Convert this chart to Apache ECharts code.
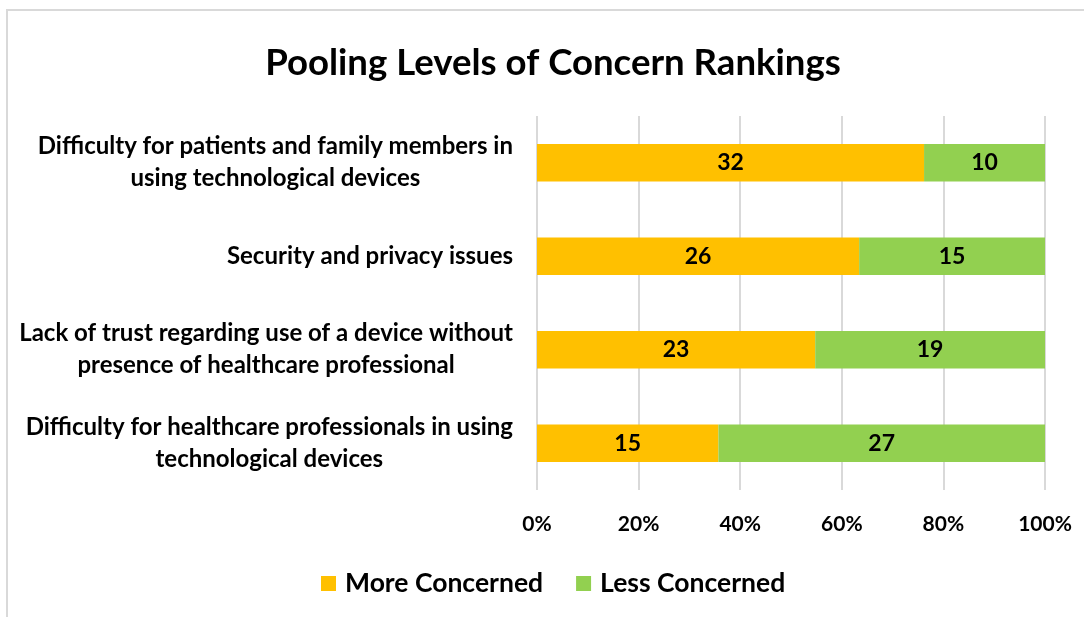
<!DOCTYPE html>
<html>
<head>
<meta charset="utf-8">
<script src="https://cdn.jsdelivr.net/npm/echarts@6/dist/echarts.min.js"></script>
<style>
  html, body { margin: 0; padding: 0; background: #ffffff; }
  #chart { width: 1084px; height: 617px; }
</style>
</head>
<body>
<div id="chart"></div>
<script>
// Concern items, top to bottom
const categories = [
  'Difficulty for patients and family members in\nusing technological devices',
  'Security and privacy issues',
  'Lack of trust regarding use of a device without\npresence of healthcare professional',
  'Difficulty for healthcare professionals in using\ntechnological devices'
];
// Number of respondents per ranking group
const moreConcerned = [32, 26, 23, 15];
const lessConcerned = [10, 15, 19, 27];
const seriesNames = ['More Concerned', 'Less Concerned'];
const xTicks = [0, 20, 40, 60, 80, 100];

const FONT = 'Lato, "Open Sans", sans-serif';

// share of each row, in percent, for the 100% stacked layout
const share = (arr, i) => arr[i] * 100 / (moreConcerned[i] + lessConcerned[i]);
const toData = arr => arr.map((v, i) => ({ value: share(arr, i), count: v }));

const chart = echarts.init(document.getElementById('chart'), null, { renderer: 'canvas' });

const segLabel = {
  show: true,
  position: 'inside',
  formatter: p => String(p.data.count),
  color: '#000000',
  fontFamily: FONT,
  fontWeight: 'bold',
  fontSize: 23
};

chart.setOption({
  backgroundColor: '#ffffff',
  animation: false,
  title: {
    text: 'Pooling Levels of Concern Rankings',
    left: 548,
    textAlign: 'center',
    top: 40,
    textStyle: { fontFamily: FONT, fontWeight: 'bold', fontSize: 36.6, color: '#000000' }
  },
  graphic: [{
    type: 'polyline',
    shape: { points: [[7, 617], [7, 10], [1084, 10]] },
    style: { stroke: '#d9d9d9', lineWidth: 2, fill: null },
    silent: true
  }],
  legend: {
    data: seriesNames,
    left: 316,
    top: 565,
    itemWidth: 15,
    itemHeight: 15,
    itemGap: 33,
    icon: 'rect',
    textStyle: { fontFamily: FONT, fontWeight: 'bold', fontSize: 26.5, color: '#000000', padding: [0, 0, 0, 4] }
  },
  grid: { left: 537, right: 39, top: 116, bottom: 127, containLabel: false },
  xAxis: {
    type: 'value',
    min: 0,
    max: 100,
    interval: 20,
    axisLine: { show: false },
    axisTick: { show: false },
    splitLine: { show: true, lineStyle: { color: '#d9d9d9', width: 2 } },
    axisLabel: {
      margin: 24,
      formatter: v => (xTicks.indexOf(v) >= 0 ? v + '%' : ''),
      fontFamily: FONT, fontWeight: 'bold', fontSize: 21, color: '#000000'
    }
  },
  yAxis: {
    type: 'category',
    data: categories,
    inverse: true,
    axisLine: { show: false },
    axisTick: { show: false },
    axisLabel: {
      margin: 24,
      align: 'right',
      formatter: v => '{c|' + v.split('\n').join('}\n{c|') + '}',
      rich: {
        c: {
          align: 'center',
          fontFamily: FONT, fontWeight: 'bold', fontSize: 24, color: '#000000',
          lineHeight: 32
        }
      }
    }
  },
  series: [
    {
      name: seriesNames[0],
      type: 'bar',
      stack: 'total',
      barWidth: '40%',
      itemStyle: { color: '#ffc000' },
      label: segLabel,
      data: toData(moreConcerned)
    },
    {
      name: seriesNames[1],
      type: 'bar',
      stack: 'total',
      barWidth: '40%',
      itemStyle: { color: '#92d050' },
      label: segLabel,
      data: toData(lessConcerned)
    }
  ]
});
</script>
</body>
</html>
